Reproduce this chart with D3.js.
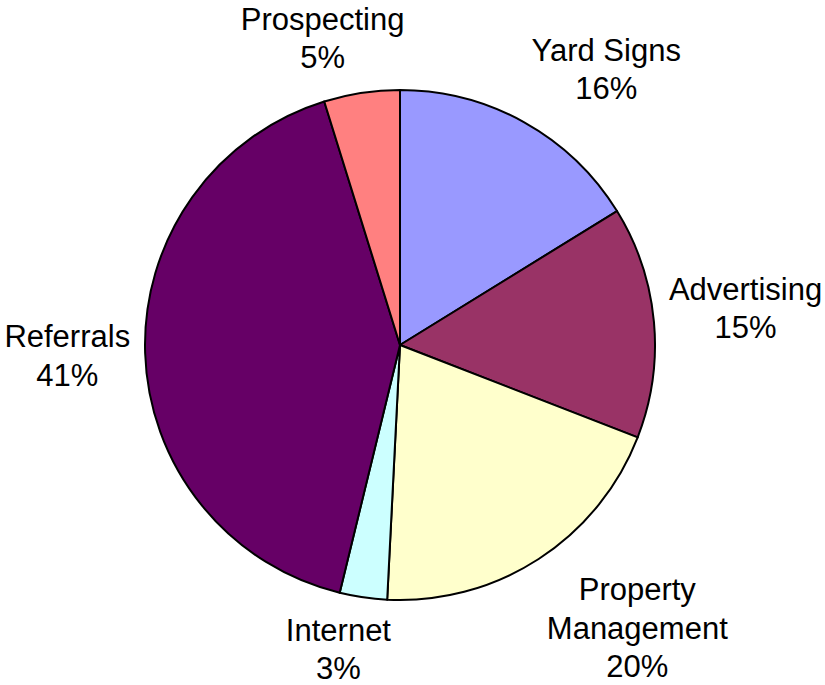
<!DOCTYPE html>
<html>
<head>
<meta charset="utf-8">
<script src="https://cdn.jsdelivr.net/npm/d3@7"></script>
<style>
  html, body { margin: 0; padding: 0; background: #fff; }
  svg { display: block; font-family: Arial, "Liberation Sans", sans-serif; }
</style>
</head>
<body>
<div id="chart"></div>
<script>
// lead sources (percent of total), clockwise from 12 o'clock
const categories = ['Yard Signs', 'Advertising', 'Property Management', 'Internet', 'Referrals', 'Prospecting'];
const values = [16.2, 14.7, 19.9, 3.0, 41.4, 4.8];
const labelLines = [['Yard Signs'], ['Advertising'], ['Property', 'Management'], ['Internet'], ['Referrals'], ['Prospecting']];
const colors = ['#9999FF', '#993366', '#FFFFCC', '#CCFFFF', '#660066', '#FF8080'];

const width = 825, height = 685;
const cx = 400, cy = 345, radius = 255;
const fontSize = 31, lineHeight = 38.5;

const svg = d3.select('#chart').append('svg').attr('width', width).attr('height', height);
const g = svg.append('g').attr('transform', `translate(${cx},${cy})`);

const total = d3.sum(values);
const pie = d3.pie().sort(null).value(d => d)(values);
const arc = d3.arc().innerRadius(0).outerRadius(radius);

g.selectAll('path.slice').data(pie).join('path')
  .attr('class', 'slice')
  .attr('d', arc)
  .attr('fill', (d, i) => colors[i])
  .attr('stroke', '#000')
  .attr('stroke-width', 2)
  .attr('stroke-linejoin', 'round');

// measure text width for label box placement
const measure = svg.append('text').attr('font-size', fontSize).attr('visibility', 'hidden');
function textWidth(s) { measure.text(s); return measure.node().getComputedTextLength(); }

const labelR = radius + 15;
const clamp = v => Math.max(-1, Math.min(1, v));

pie.forEach((d, i) => {
  const a = (d.startAngle + d.endAngle) / 2;
  const ux = Math.sin(a), uy = -Math.cos(a);
  const lines = labelLines[i].concat([Math.round(values[i] / total * 100) + '%']);
  const w = d3.max(lines, textWidth);
  const h = lines.length * lineHeight;
  const px = labelR * ux, py = labelR * uy;
  const bx = px + (w / 2) * clamp(3 * ux);
  const by = py + (h / 2) * clamp(3 * uy);
  const top = by - h / 2;
  const t = g.append('text')
    .attr('font-size', fontSize)
    .attr('text-anchor', 'middle')
    .attr('fill', '#000');
  lines.forEach((s, k) => {
    t.append('tspan').attr('x', bx).attr('y', top + fontSize * 0.92 + k * lineHeight).text(s);
  });
});
measure.remove();
</script>
</body>
</html>
